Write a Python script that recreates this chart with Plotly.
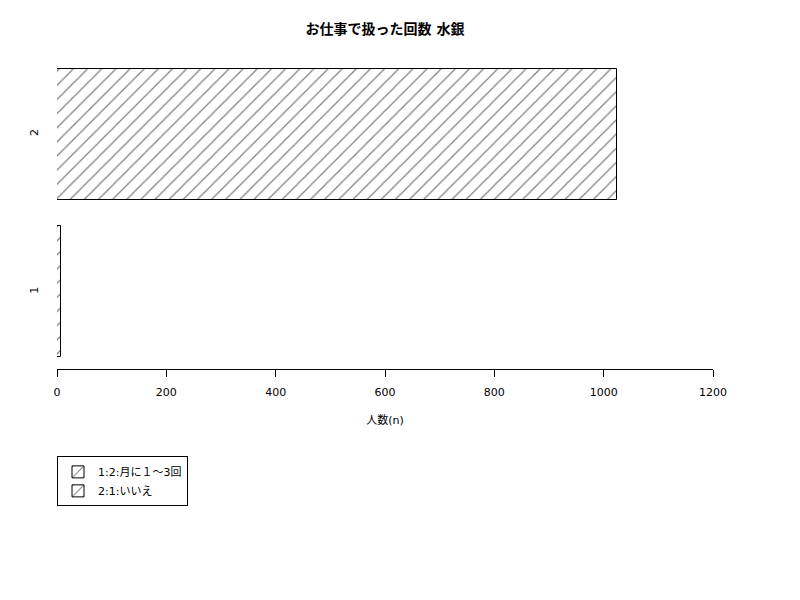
import plotly.graph_objects as go

categories = ["1", "2"]
values = [7, 1024]
legend_labels = ["1:2:月に１〜3回", "2:1:いいえ"]
x_ticks = [0, 200, 400, 600, 800, 1000, 1200]

title_text = "お仕事で扱った回数 水銀"
x_title = "人数(n)"

FONT = "DejaVu Sans, Noto Sans CJK JP, sans-serif"

fig = go.Figure()
for cat, val, lab in zip(categories, values, legend_labels):
    fig.add_trace(go.Bar(
        y=[cat], x=[val], orientation="h", name=lab,
        marker=dict(
            color="white",
            line=dict(color="black", width=1),
            pattern=dict(shape="/", size=10, solidity=0.12,
                         fgcolor="black", bgcolor="white"),
        ),
        width=1 / 1.2,
    ))

fig.update_layout(
    width=800, height=600,
    paper_bgcolor="white", plot_bgcolor="white",
    margin=dict(l=49, r=95, t=49, b=239, autoexpand=False),
    font=dict(family=FONT, size=11, color="black"),
    title=dict(text="<b>" + title_text + "</b>", x=(49 + 328) / 800, xanchor="center",
               y=1 - 21 / 600, yanchor="middle",
               font=dict(size=14, family=FONT)),
    showlegend=True,
    legend=dict(x=0, xanchor="left", y=-0.28, yanchor="top",
                bordercolor="black", borderwidth=1, bgcolor="white",
                font=dict(size=11, family=FONT), traceorder="normal",
                tracegroupgap=0, itemwidth=30),
    bargap=0,
)
fig.update_xaxes(
    range=[0, 1200], tickvals=x_ticks, ticktext=[str(v) for v in x_ticks],
    showgrid=False, zeroline=False, showline=True, linecolor="black", linewidth=1,
    ticks="outside", ticklen=7, tickcolor="black", tickwidth=1,
    tickfont=dict(size=11), ticklabelstandoff=6,
    title=dict(text=x_title, font=dict(size=11), standoff=18),
)
fig.update_yaxes(
    type="category", categoryorder="array", categoryarray=categories,
    range=[-0.49, 1.49], showgrid=False, zeroline=False, showline=False,
    ticks="", tickangle=-90, tickfont=dict(size=11), ticklabelstandoff=16,
)

fig.write_html("out.html")
